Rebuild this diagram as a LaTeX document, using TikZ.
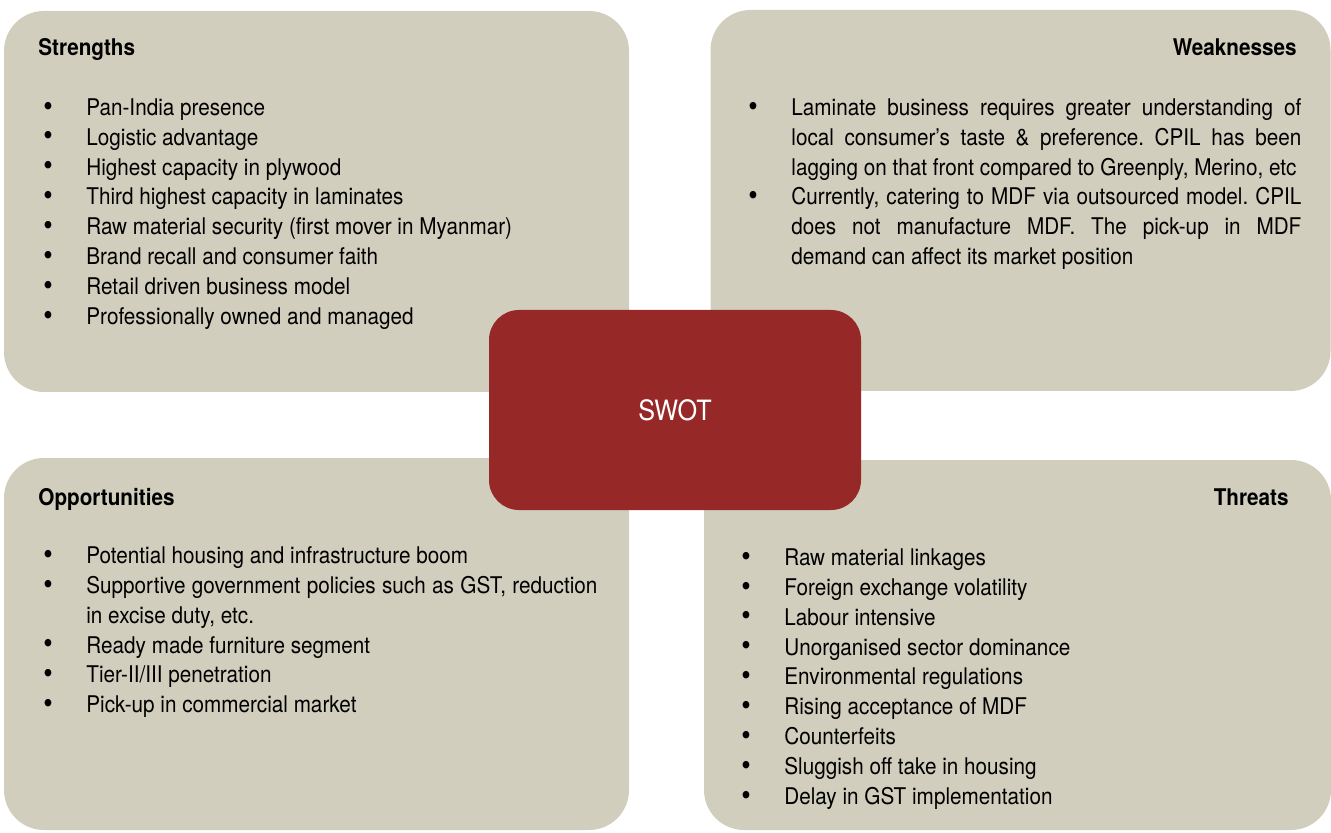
\documentclass[tikz,border=0pt]{standalone}
\usepackage{fontspec}
\setmainfont{TeX Gyre Heros}[FakeStretch=0.9]
\usetikzlibrary{positioning}
\frenchspacing

\definecolor{swotbeige}{RGB}{209,206,189}
\definecolor{swotred}{RGB}{150,41,40}

% one bullet line with hanging indent
\newcommand\swotitem{\par\noindent\hangindent=21.5pt\hangafter=1\rule{0pt}{10pt}%
  \makebox[21.5pt][l]{\raisebox{-0.4pt}{\fontsize{15}{15}\selectfont\textbullet}}}

\tikzset{
  quad/.style={rectangle, fill=swotbeige, rounded corners=20pt, inner sep=0pt, outer sep=0pt,
    minimum width=#1},
  head/.style={font=\fontsize{11.5}{14.9}\selectfont\bfseries, inner sep=0pt},
  itemlist/.style={font=\fontsize{11.5}{14.95}\selectfont, inner sep=0pt, text width=277pt, align=justify}
}

\begin{document}
\begin{tikzpicture}[x=0.5pt, y=-0.5pt]
    \useasboundingbox (0,0) rectangle (1331,833);

    % Four quadrants
    \node[quad=312.5pt, minimum height=190.5pt] (S) at (316.5,201.5) {};
    \node[quad=310pt, minimum height=190.5pt] (W) at (1020.5,200.5) {};
    \node[quad=312.5pt, minimum height=186pt] (O) at (316.5,644) {};
    \node[quad=313.5pt, minimum height=185pt] (T) at (1017.5,645) {};

    % Centre
    \node[rectangle, fill=swotred, rounded corners=15pt, inner sep=0pt,
          minimum width=186pt, minimum height=100pt,
          text=white, font=\fontsize{14}{16}\selectfont] (swot) at (675,410) {SWOT};

    % Headings
    \node[head, anchor=base west] (Shead) at (38,56) {Strengths};
    \node[head, anchor=base east] (Whead) at (1297,56) {Weaknesses};
    \node[head, anchor=base west] (Ohead) at (38,505) {Opportunities};
    \node[head, anchor=base east] (Thead) at (1289,505) {Threats};

    % Lists
    \node[itemlist, anchor=north west] (Slist) at (43,85) {%
      \swotitem Pan-India presence
      \swotitem Logistic advantage
      \swotitem Highest capacity in plywood
      \swotitem Third highest capacity in laminates
      \swotitem Raw material security (first mover in Myanmar)
      \swotitem Brand recall and consumer faith
      \swotitem Retail driven business model
      \swotitem Professionally owned and managed\par};

    \node[itemlist, anchor=north west, text width=276.5pt] (Wlist) at (748,85) {%
      \swotitem Laminate business requires greater understanding of\linebreak
        local consumer's taste \& preference. CPIL has been\linebreak
        lagging on that front compared to Greenply, Merino, etc
      \swotitem Currently, catering to MDF via outsourced model. CPIL\linebreak
        does not manufacture MDF. The pick-up in MDF\linebreak
        demand can affect its market position\par};

    \node[itemlist, anchor=north west] (Olist) at (43,533) {%
      \swotitem Potential housing and infrastructure boom
      \swotitem Supportive government policies such as GST, reduction\linebreak
        in excise duty, etc.
      \swotitem Ready made furniture segment
      \swotitem Tier-II/III penetration
      \swotitem Pick-up in commercial market\par};

    \node[itemlist, anchor=north west] (Tlist) at (741,535) {%
      \swotitem Raw material linkages
      \swotitem Foreign exchange volatility
      \swotitem Labour intensive
      \swotitem Unorganised sector dominance
      \swotitem Environmental regulations
      \swotitem Rising acceptance of MDF
      \swotitem Counterfeits
      \swotitem Sluggish off take in housing
      \swotitem Delay in GST implementation\par};
\end{tikzpicture}
\end{document}
